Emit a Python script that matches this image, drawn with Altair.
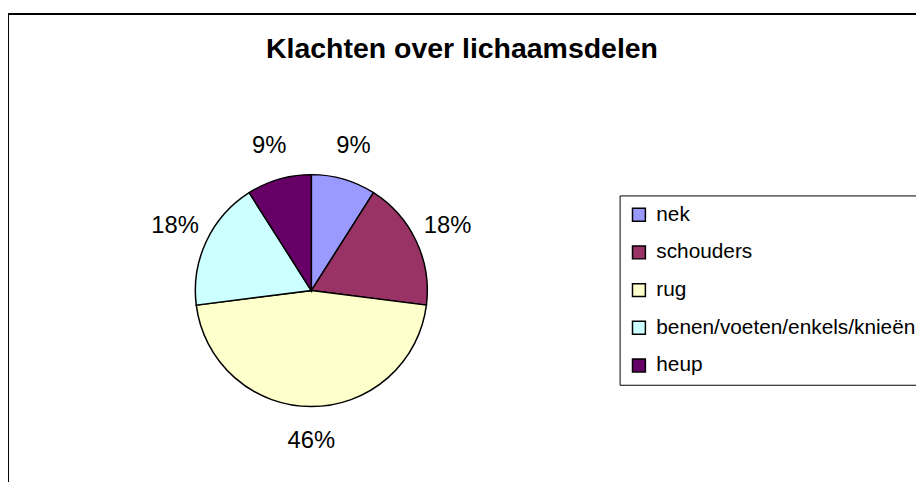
import altair as alt
import pandas as pd

# ---- data ----
categories = ["nek", "schouders", "rug", "benen/voeten/enkels/knieën", "heup"]
percentages = [9, 18, 46, 18, 9]
colors = ["#9999FF", "#993366", "#FFFFCC", "#CCFFFF", "#660066"]
title_text = "Klachten over lichaamsdelen"

df = pd.DataFrame({
    "deel": categories,
    "pct": percentages,
    "order": list(range(len(categories))),
    "label": [f"{p}%" for p in percentages],
})

FONT = "Liberation Sans"
W, H = 916, 474
CX, CY = 306, 283

border = alt.Chart(pd.DataFrame({"a": [0]})).mark_rect(
    fill="white", stroke="black", strokeWidth=2
).encode(
    x=alt.value(0), x2=alt.value(1200), y=alt.value(4), y2=alt.value(1200)
)

color = alt.Color(
    "deel:N",
    scale=alt.Scale(domain=categories, range=colors),
    legend=alt.Legend(
        title=None,
        orient="none",
        legendX=617,
        legendY=187,
        strokeColor="black",
        fillColor="white",
        padding=9,
        rowPadding=16,
        symbolType="square",
        symbolSize=169,
        symbolStrokeColor="black",
        symbolStrokeWidth=1.5,
        symbolOpacity=1,
        labelFontSize=21,
        labelFont=FONT,
        labelColor="black",
        labelOffset=7,
        labelLimit=400,
    ),
)

pie = alt.Chart(df).mark_arc(radius=117, stroke="black", strokeWidth=1.5).encode(
    theta=alt.Theta("pct:Q", stack=True),
    color=color,
    order=alt.Order("order:Q"),
    x=alt.value(CX),
    y=alt.value(CY),
)

labels = alt.Chart(df).mark_text(
    radius=152, fontSize=24, font=FONT, color="black", baseline="middle", align="center"
).encode(
    theta=alt.Theta("pct:Q", stack=True),
    order=alt.Order("order:Q"),
    text="label:N",
    x=alt.value(CX),
    y=alt.value(CY),
)

title = alt.Chart(pd.DataFrame({"t": [title_text]})).mark_text(
    fontSize=28.7, fontWeight="bold", font=FONT, color="black", align="center", baseline="alphabetic"
).encode(
    text="t:N", x=alt.value(458), y=alt.value(48)
)

chart = alt.layer(border, pie, labels, title).properties(
    width=W, height=H, autosize="none", padding=0
).configure_view(strokeWidth=0)

chart.save("out.html", embed_options={"renderer": "svg", "actions": False})
